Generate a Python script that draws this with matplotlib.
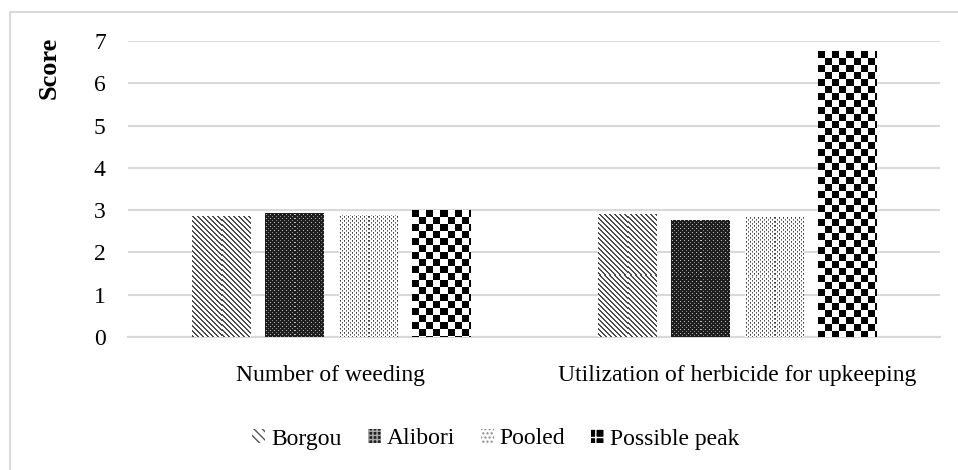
import numpy as np
import matplotlib.pyplot as plt
from matplotlib.patches import Patch, Rectangle

categories = ['Number of weeding', 'Utilization of herbicide for upkeeping']
series = ['Borgou', 'Alibori', 'Pooled', 'Possible peak']
borgou = [2.86, 2.91]
alibori = [2.93, 2.77]
pooled = [2.88, 2.84]
possible_peak = [3.0, 6.76]
values = [borgou, alibori, pooled, possible_peak]

plt.rcParams['font.family'] = ['Liberation Serif', 'DejaVu Serif']


def pattern(kind, h, w):
    i, j = np.mgrid[0:h, 0:w]
    img = np.ones((h, w))
    if kind == 0:      # diagonal stripes
        img[((j - i) % 5) < 2] = 0.3
    elif kind == 1:    # dark with light dots
        img[:] = 0.12
        img[((i % 4) == 1) & ((j % 4) == 1)] = 0.75
        img[((i % 4) == 3) & ((j % 4) == 3)] = 0.55
    elif kind == 2:    # light with grey dots
        img[((i % 4) == 1) & ((j % 4) == 1)] = 0.25
        img[((i % 4) == 2) & ((j % 4) == 1)] = 0.45
        img[((i % 4) == 3) & ((j % 4) == 3)] = 0.35
        img[((i % 4) == 0) & ((j % 4) == 3)] = 0.6
    else:              # checkerboard
        img[((i // 7 + j // 7) % 2) == 0] = 0.0
    return img


fig = plt.figure(figsize=(9.58, 4.70), dpi=100)
ax = fig.add_axes([128 / 958, 1 - 337 / 470, (940 - 128) / 958, (337 - 41) / 470])

# chart frame
fig.patches.append(Rectangle((10 / 958, -0.1), 1.2, 0.1 + 1 - 12 / 470,
                             transform=fig.transFigure, fill=False,
                             edgecolor='#d9d9d9', linewidth=1.5, zorder=-5))

x = np.arange(len(categories))
width = 0.143
step = 0.181
all_bars = []
for k, vals in enumerate(values):
    bars = ax.bar(x + (k - 1.5) * step, vals, width, facecolor='none',
                  edgecolor='none', label=series[k], zorder=3)
    all_bars.append(bars)

ax.set_xlim(-0.5, 1.5)
ax.set_ylim(0, 7)
ax.set_yticks(range(8))
ax.set_xticks(x)
ax.set_xticklabels(categories, fontsize=17)
ax.tick_params(axis='y', length=0, pad=16, labelsize=17)
ax.tick_params(axis='x', length=0, pad=20)
ax.grid(axis='y', color='#d9d9d9', linewidth=1.5, zorder=0)
for s in ['top', 'right', 'left']:
    ax.spines[s].set_visible(False)
ax.spines['bottom'].set_color('#d9d9d9')
ax.spines['bottom'].set_linewidth(1.5)

fig.text(49 / 958, 1 - 68 / 470, 'Score', rotation=90, fontsize=19,
         fontweight='bold', ha='center', va='center')

# fill bars with pixel patterns
fig.canvas.draw()
renderer = fig.canvas.get_renderer()
for k, bars in enumerate(all_bars):
    for p in bars:
        bb = p.get_window_extent(renderer)
        w = max(int(round(bb.width)), 1)
        h = max(int(round(bb.height)), 1)
        img = pattern(k, h, w)
        x0, y0 = p.get_x(), p.get_y()
        im = ax.imshow(img, cmap='gray', vmin=0, vmax=1, interpolation='nearest',
                       extent=(x0, x0 + p.get_width(), y0, y0 + p.get_height()),
                       aspect='auto', zorder=3)
        im.set_clip_path(p)

ax.set_xlim(-0.5, 1.5)
ax.set_ylim(0, 7)

plt.rcParams['hatch.linewidth'] = 1.0
handles = [
    Patch(facecolor='white', edgecolor='#555555', hatch='\\\\\\\\', linewidth=0),
    Patch(facecolor='#222222', edgecolor='#aaaaaa', hatch='++++', linewidth=0),
    Patch(facecolor='white', edgecolor='#888888', hatch='....', linewidth=0),
    Patch(facecolor='black', edgecolor='white', hatch='++', linewidth=0),
]
fig.legend(handles, series, loc='center', bbox_to_anchor=(496 / 958, 1 - 439 / 470),
           ncol=4, frameon=False, fontsize=17, handlelength=0.55, handleheight=0.55,
           handletextpad=0.25, columnspacing=1.1)

fig.savefig('out.png', dpi=100)
